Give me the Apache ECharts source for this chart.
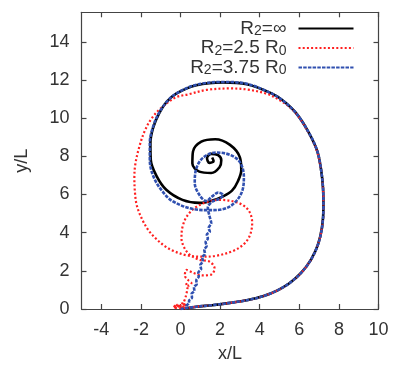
<!DOCTYPE html>
<html>
<head>
<meta charset="utf-8">
<script src="https://cdn.jsdelivr.net/npm/echarts@6/dist/echarts.min.js"></script>
<style>html,body{margin:0;padding:0;background:#fff;}#c{width:394px;height:365px;}</style>
</head>
<body>
<div id="c"></div>
<script>
// tick values
const xTicks = [-4, -2, 0, 2, 4, 6, 8, 10];
const yTicks = [0, 2, 4, 6, 8, 10, 12, 14];
const seriesNames = ['R2=inf', 'R2=2.5 R0', 'R2=3.75 R0'];
const legendLabels = ['{a|R}{s|2}{a|=∞}', '{a|R}{s|2}{a|=2.5 R}{s|0}', '{a|R}{s|2}{a|=3.75 R}{s|0}'];

// R2 = infinity (black solid)
const blackPath = [
  [0,0],[0.8,0.12],[1.6,0.2],[2.5,0.32],[3.4,0.47],[4.2,0.68],[4.9,0.98],[5.5,1.35],
  [6.1,1.9],[6.6,2.6],[6.95,3.4],[7.15,4.3],[7.22,5.3],[7.2,6.3],[7.1,7.3],[6.9,8.3],
  [6.45,9.3],[5.85,10.25],[5.2,10.9],[4.6,11.3],[3.35,11.78],[2.15,11.88],[0.8,11.73],
  [-0.2,11.3],[-0.7,10.85],[-1.08,10.25],[-1.38,9.5],[-1.52,8.7],[-1.5,7.8],[-1.2,6.95],
  [-0.72,6.25],[0.1,5.72],[0.95,5.56],[1.6,5.68],[2.15,5.9],[2.6,6.2],[2.9,6.7],
  [3.07,7.28],[3.0,7.95],[2.5,8.6],[1.75,8.9],[1.05,8.77],[0.63,8.25],[0.6,7.63],
  [0.95,7.2],[1.55,7.13],[1.97,7.43],[2.06,7.8],[1.9,8.06],[1.55,8.13],[1.34,7.9],
  [1.46,7.66],[1.67,7.75],[1.6,7.94]
];

// R2 = 2.5 R0 (red dotted)
const redPath = [
  [0,0],[0.8,0.12],[1.6,0.2],[2.5,0.32],[3.4,0.47],[4.2,0.68],[4.9,0.98],[5.5,1.35],
  [6.1,1.9],[6.6,2.6],[6.95,3.4],[7.15,4.3],[7.22,5.3],[7.2,6.3],[7.1,7.3],[6.85,8.4],
  [6.35,9.45],[5.7,10.4],[5.0,10.95],[4.35,11.28],[3.4,11.5],[2.5,11.56],[1.3,11.48],
  [0.4,11.25],[-0.22,11.1],[-0.85,10.65],[-1.4,10.07],[-1.8,9.35],[-2.08,8.5],
  [-2.28,7.6],[-2.33,6.9],[-2.3,6.1],[-2.2,5.4],[-1.91,4.64],[-1.6,4.1],[-1.23,3.68],
  [-0.8,3.3],[-0.39,3.06],[0.29,2.82],[1.1,2.74],[1.8,2.79],[2.65,3.04],[3.2,3.4],
  [3.5,3.85],[3.62,4.5],[3.45,5.15],[2.95,5.55],[2.0,5.72],[1.38,5.62],[0.8,5.35],
  [0.35,4.9],[0.1,4.3],[0.05,3.7],[0.2,3.2],[0.46,2.85],[0.95,2.58],[1.47,2.48],
  [1.72,2.13],[1.55,1.8],[1.13,1.76],[0.62,1.9],[0.3,2.05],[0.22,1.75],[0.4,1.5],
  [0.55,1.35],[0.42,1.22],[0.28,1.35],[0.35,1.1],[0.3,0.8],[0.22,0.5],[0.15,0.3],
  [0.3,0.15],[0.1,0.3],[-0.1,0.15],[-0.3,0.05],[-0.1,0.25],[0.1,0.08],[0.2,0.3],
  [0.0,0.05],[-0.2,0.2],[-0.35,0.08],[0.3,0.05]
];

// R2 = 3.75 R0 (blue dashed)
const bluePath = [
  [0,0],[0.8,0.12],[1.6,0.2],[2.5,0.32],[3.4,0.47],[4.2,0.68],[4.9,0.98],[5.5,1.35],
  [6.1,1.9],[6.6,2.6],[6.95,3.4],[7.15,4.3],[7.22,5.3],[7.2,6.3],[7.1,7.3],[6.9,8.3],
  [6.45,9.3],[5.85,10.25],[5.2,10.9],[4.6,11.3],[3.35,11.8],[2.15,11.9],[0.8,11.75],
  [-0.2,11.3],[-0.7,10.85],[-1.1,10.25],[-1.4,9.5],[-1.55,8.7],[-1.55,7.8],[-1.35,6.9],
  [-0.9,6.15],[-0.4,5.65],[0.62,5.24],[1.47,5.18],[2.31,5.28],[2.85,5.7],[3.15,6.3],
  [3.2,6.93],[3.0,7.7],[2.5,8.08],[1.8,8.2],[1.13,7.92],[0.78,7.3],[0.72,6.6],
  [0.96,5.97],[1.3,5.66],[1.6,5.9],[1.9,6.1],[2.14,5.98],[1.97,5.78],[1.6,5.62],
  [1.38,5.3],[1.47,4.85],[1.55,4.5],[1.42,4.25],[1.48,4.05],[1.33,3.9],[1.38,3.7],
  [1.27,3.5],[1.32,3.3],[1.2,3.1],[1.24,2.9],[1.1,2.7],[1.13,2.5],[1.0,2.3],[1.04,2.1],
  [0.9,1.9],[0.92,1.7],[0.8,1.5],[0.82,1.3],[0.68,1.15],[0.7,0.95],[0.56,0.8],
  [0.58,0.6],[0.44,0.45],[0.42,0.3],[0.3,0.18],[0.28,0.05]
];

const fontFam = 'Liberation Sans, Arial, Helvetica, sans-serif';
const chart = echarts.init(document.getElementById('c'), null, {renderer: 'canvas'});

function axisCommon(show) {
  return {
    axisLine: {show: true, onZero: false, lineStyle: {color: '#444', width: 1.2}},
    axisTick: {show: true, inside: true, length: 5, lineStyle: {color: '#444', width: 1.2}},
    splitLine: {show: false},
    axisLabel: {show: show, color: '#333', fontSize: 18, fontFamily: fontFam}
  };
}

const xBase = axisCommon(true);
xBase.axisTick.customValues = xTicks;
xBase.axisLabel.customValues = xTicks;
xBase.axisLabel.margin = 12;
const xTop = axisCommon(false);
xTop.axisTick.customValues = xTicks;
xTop.axisLabel.customValues = xTicks;
const yBase = axisCommon(true);
yBase.axisTick.customValues = yTicks;
yBase.axisLabel.customValues = yTicks;
yBase.axisLabel.margin = 12;
const yRight = axisCommon(false);
yRight.axisTick.customValues = yTicks;
yRight.axisLabel.customValues = yTicks;

const lineStyles = [
  {color: '#000000', width: 2.6, type: 'solid'},
  {color: '#ff2020', width: 2.2, type: [2, 2.2]},
  {color: '#3050b0', width: 2.6, type: [3.5, 1.2]}
];
const paths = [blackPath, redPath, bluePath];
const seriesOrder = [0, 1, 2];

chart.setOption({
  animation: false,
  backgroundColor: '#fff',
  grid: {left: 81.5, right: 15.5, top: 12.3, bottom: 56, containLabel: false, outerBoundsMode: 'none'},
  legend: {
    orient: 'vertical',
    right: 34.5,
    top: 14,
    align: 'right',
    itemWidth: 55,
    itemHeight: 10,
    itemGap: 0,
    itemStyle: {opacity: 0},
    data: seriesNames,
    formatter: function (name) { return legendLabels[seriesNames.indexOf(name)]; },
    textStyle: {
      padding: [0, 7, 0, 0],
      rich: {
        a: {fontSize: 19, lineHeight: 20, color: '#333', fontFamily: fontFam},
        s: {fontSize: 14, lineHeight: 6, verticalAlign: 'bottom', color: '#333', fontFamily: fontFam}
      }
    }
  },
  xAxis: [
    Object.assign({type: 'value', min: -5, max: 10, position: 'bottom',
      name: 'x/L', nameLocation: 'middle', nameGap: 36,
      nameTextStyle: {fontSize: 18, color: '#333', fontFamily: fontFam}}, xBase),
    Object.assign({type: 'value', min: -5, max: 10, position: 'top'}, xTop)
  ],
  yAxis: [
    Object.assign({type: 'value', min: 0, max: 15.55, position: 'left',
      name: 'y/L', nameLocation: 'middle', nameGap: 50, nameRotate: 90,
      nameTextStyle: {fontSize: 18, color: '#333', fontFamily: fontFam}}, yBase),
    Object.assign({type: 'value', min: 0, max: 15.55, position: 'right'}, yRight)
  ],
  series: seriesOrder.map(function (i) {
    return {
      name: seriesNames[i],
      type: 'line',
      data: paths[i],
      showSymbol: false,
      symbol: 'none',
      smooth: 0.35,
      clip: true,
      lineStyle: lineStyles[i],
      itemStyle: {color: lineStyles[i].color},
      emphasis: {disabled: true}
    };
  })
});
</script>
</body>
</html>
